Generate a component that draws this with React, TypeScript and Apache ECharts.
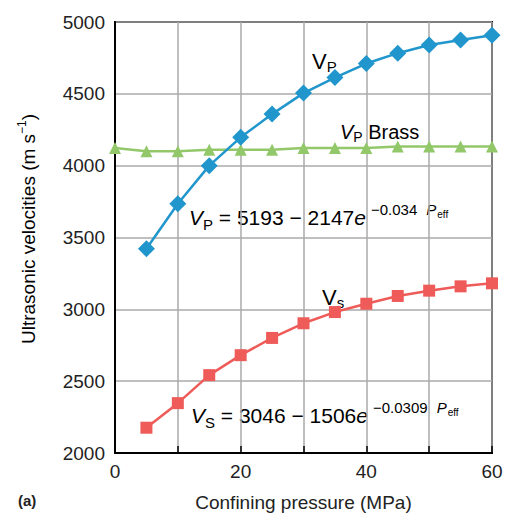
import React, { useEffect, useRef } from "react";
import * as echarts from "echarts";

const pressures = [0, 5, 10, 15, 20, 25, 30, 35, 40, 45, 50, 55, 60];
const vpPressures = [5, 10, 15, 20, 25, 30, 35, 40, 45, 50, 55, 60];
const vpValues = [3422, 3735, 4000, 4197, 4359, 4505, 4613, 4711, 4783, 4840, 4875, 4907];
const brassValues = [4123, 4100, 4100, 4111, 4111, 4111, 4123, 4123, 4123, 4134, 4134, 4134, 4134];
const vsValues = [2176, 2347, 2542, 2681, 2801, 2903, 2981, 3039, 3093, 3130, 3160, 3181];
const xTickLabels = ["0", "20", "40", "60"];

const BLUE = "#2196cc";
const GREEN = "#92c86a";
const RED = "#ee5b58";
const FONT = "'Liberation Sans', Arial, Helvetica, sans-serif";

export default function App() {
  const ref = useRef<HTMLDivElement>(null);
  useEffect(() => {
    document.body.style.margin = "0";
    if (!ref.current) return;
    const chart = echarts.init(ref.current, null, { renderer: "svg" });
    const eqRich = {
      v: { fontSize: 21, fontStyle: "italic", fontFamily: FONT, color: "#111", lineHeight: 30 },
      sub: { fontSize: 15, fontFamily: FONT, color: "#111", verticalAlign: "bottom", lineHeight: 24 },
      n: { fontSize: 21, fontFamily: FONT, color: "#111", lineHeight: 30 },
      sup: { fontSize: 15, fontFamily: FONT, color: "#111", verticalAlign: "top", lineHeight: 18, padding: [0, 0, 0, 5] },
      supi: { fontSize: 15, fontStyle: "italic", fontFamily: FONT, color: "#111", verticalAlign: "top", lineHeight: 18, padding: [0, 0, 0, 9] },
      eff: { fontSize: 10, fontFamily: FONT, color: "#111", verticalAlign: "top", lineHeight: 18, padding: [7, 0, 0, 1] },
    };
    chart.setOption({
      animation: false,
      grid: { left: 115, top: 22, right: 19, bottom: 64, show: true, borderColor: "#000", borderWidth: 2, backgroundColor: "transparent" },
      xAxis: {
        type: "value",
        min: 0,
        max: 60,
        interval: 10,
        axisLine: { show: true, lineStyle: { color: "#000", width: 2 } },
        axisTick: { show: true, inside: true, length: 7, lineStyle: { color: "#000", width: 1.5 } },
        axisLabel: {
          margin: 9,
          fontSize: 19,
          fontFamily: FONT,
          color: "#222",
          formatter: (v: number) => (xTickLabels.includes(String(v)) ? String(v) : ""),
        },
        splitLine: { show: true, lineStyle: { color: "#aaa", width: 1.5 } },
        name: "Confining pressure (MPa)",
        nameLocation: "middle",
        nameGap: 40,
        nameTextStyle: { fontSize: 19, fontFamily: FONT, color: "#222" },
      },
      yAxis: {
        type: "value",
        min: 2000,
        max: 5000,
        interval: 500,
        axisLine: { show: true, lineStyle: { color: "#000", width: 2 } },
        axisTick: { show: false },
        axisLabel: { margin: 10, fontSize: 19, fontFamily: FONT, color: "#222", formatter: (v: number) => String(v) },
        splitLine: { show: true, lineStyle: { color: "#aaa", width: 1.5 } },
      },
      series: [
        {
          name: "VP Brass",
          type: "line",
          data: pressures.map((p, i) => [p, brassValues[i]]),
          symbol: "triangle",
          symbolSize: 12,
          lineStyle: { color: GREEN, width: 2.5 },
          itemStyle: { color: GREEN },
          z: 3,
        },
        {
          name: "VP",
          type: "line",
          data: vpPressures.map((p, i) => [p, vpValues[i]]),
          symbol: "diamond",
          symbolSize: 17,
          lineStyle: { color: BLUE, width: 2.5 },
          itemStyle: { color: BLUE },
          z: 4,
        },
        {
          name: "VS",
          type: "line",
          data: vpPressures.map((p, i) => [p, vsValues[i]]),
          symbol: "rect",
          symbolSize: 12,
          lineStyle: { color: RED, width: 2.5 },
          itemStyle: { color: RED },
          z: 4,
        },
      ],
      graphic: [
        {
          type: "text",
          x: 16,
          y: 344,
          rotation: Math.PI / 2,
          style: {
            text: "{n|Ultrasonic velocities (m s}{sup|−1}{n|)}",
            rich: {
              n: { fontSize: 19, fontFamily: FONT, color: "#222", lineHeight: 24 },
              sup: { fontSize: 12, fontFamily: FONT, color: "#222", verticalAlign: "top", lineHeight: 16 },
            },
          },
        },
        {
          type: "text",
          x: 18,
          y: 493,
          style: { text: "(a)", fontSize: 15, fontWeight: "bold", fontFamily: FONT, fill: "#222" },
        },
        {
          type: "text",
          x: 312,
          y: 48,
          style: {
            text: "{v|V}{s|P}",
            rich: {
              v: { fontSize: 22, fontFamily: FONT, color: BLUE, lineHeight: 26 },
              s: { fontSize: 15, fontFamily: FONT, color: BLUE, verticalAlign: "bottom", lineHeight: 20 },
            },
          },
        },
        {
          type: "text",
          x: 340,
          y: 120,
          style: {
            text: "{v|V}{s|P}{n| Brass}",
            rich: {
              v: { fontSize: 20, fontStyle: "italic", fontFamily: FONT, color: GREEN, lineHeight: 24 },
              s: { fontSize: 14, fontFamily: FONT, color: GREEN, verticalAlign: "bottom", lineHeight: 18 },
              n: { fontSize: 20, fontFamily: FONT, color: GREEN, lineHeight: 24 },
            },
          },
        },
        {
          type: "text",
          x: 322,
          y: 284,
          style: {
            text: "{v|V}{s|s}",
            rich: {
              v: { fontSize: 22, fontFamily: FONT, color: "#e8241f", lineHeight: 26 },
              s: { fontSize: 15, fontFamily: FONT, color: "#e8241f", verticalAlign: "bottom", lineHeight: 20 },
            },
          },
        },
        {
          type: "text",
          x: 189,
          y: 202,
          style: {
            text: "{v|V}{sub|P}{n| = 5193 − 2147}{v|e}{sup|−0.034}{supi|P}{eff|eff}",
            rich: eqRich,
          },
        },
        {
          type: "text",
          x: 191,
          y: 400,
          style: {
            text: "{v|V}{sub|S}{n| = 3046 − 1506}{v|e}{sup|−0.0309}{supi|P}{eff|eff}",
            rich: eqRich,
          },
        },
      ],
    });
    return () => chart.dispose();
  }, []);
  return <div ref={ref} style={{ width: 511, height: 517 }} />;
}
